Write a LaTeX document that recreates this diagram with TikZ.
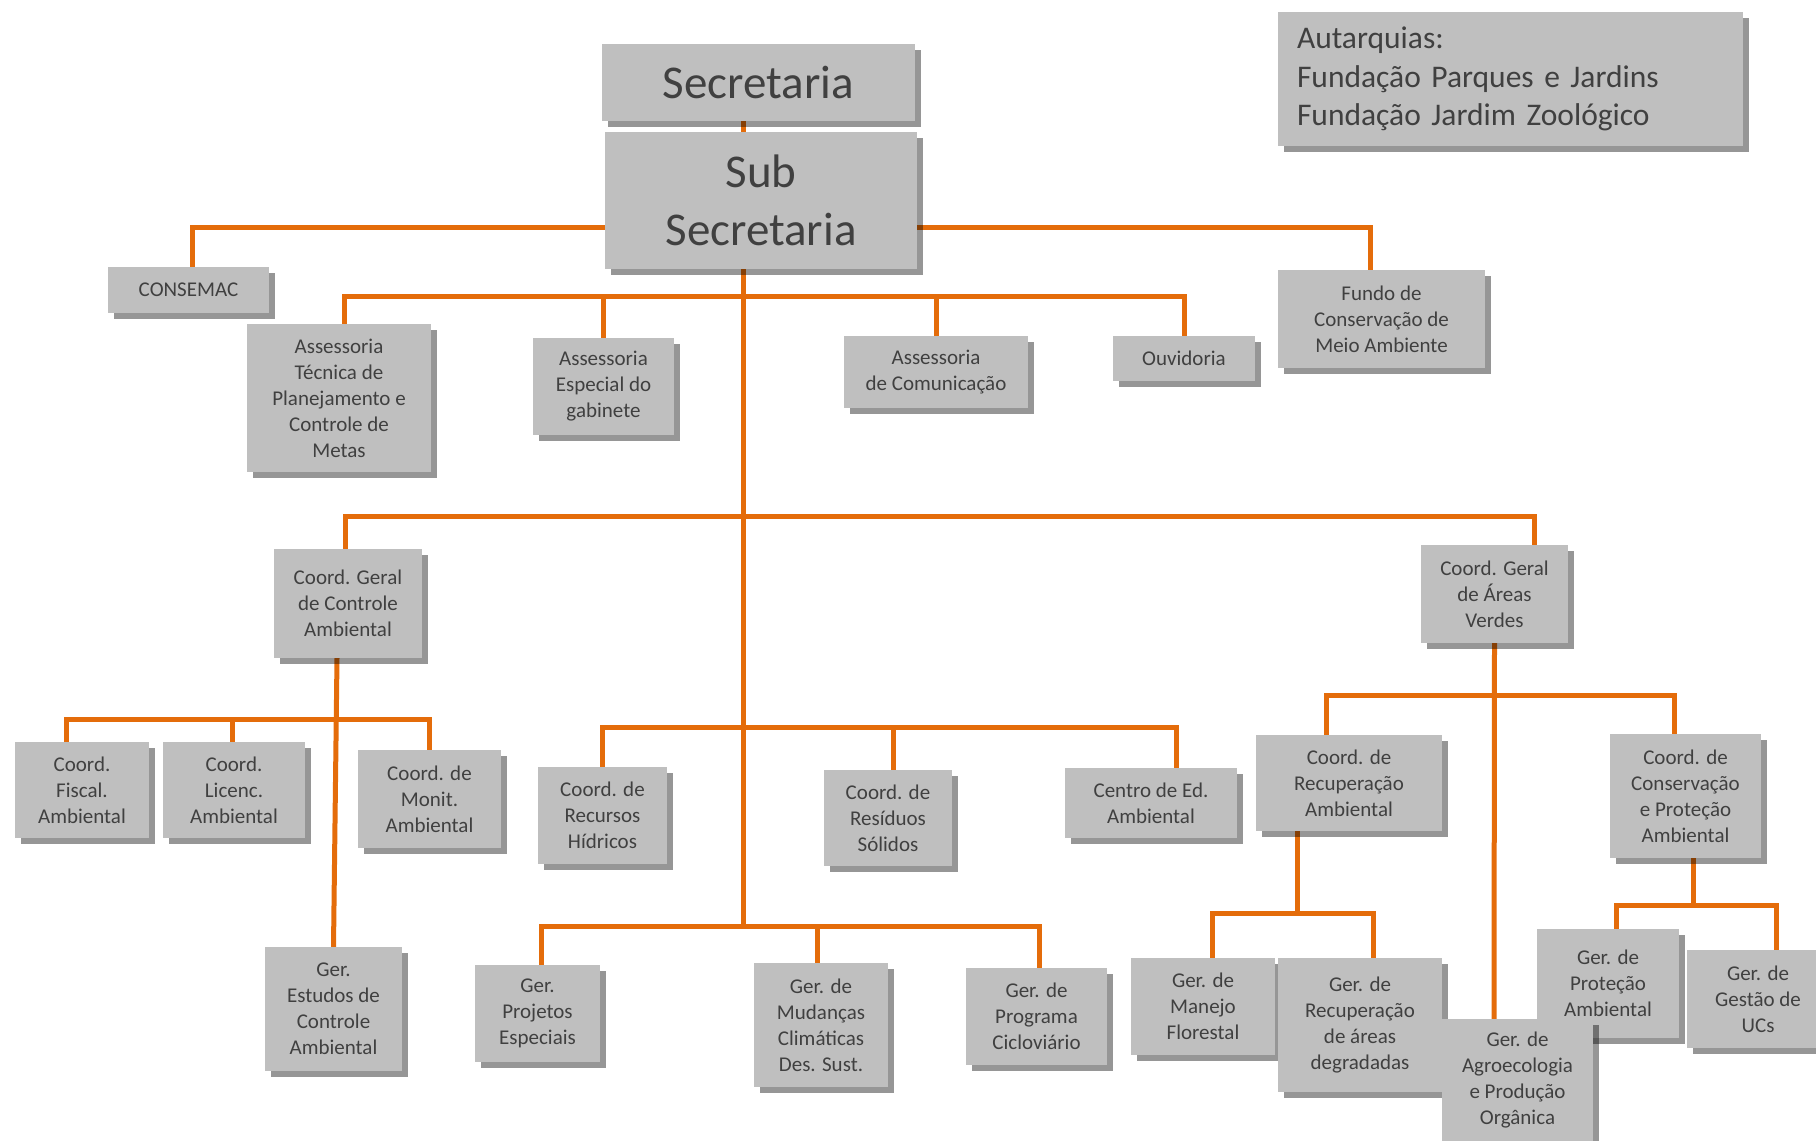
\documentclass[tikz,border=0pt]{standalone}
\usepackage{fontspec}
\setmainfont{Carlito}
\usetikzlibrary{positioning,shadows,backgrounds}
\definecolor{orgorange}{RGB}{228,108,10}
\definecolor{orggray}{RGB}{191,191,191}
\definecolor{orgtext}{RGB}{64,64,64}
\tikzset{
  box/.style={fill=orggray, text=orgtext, align=center, inner sep=0pt,
    font=\fontsize{21}{26}\selectfont,
    drop shadow={shadow xshift=6pt, shadow yshift=-6pt, fill=black, opacity=0.41}},
  bigbox/.style={box, font=\fontsize{47}{58}\selectfont},
  dims/.style 2 args={minimum width=#1pt, minimum height=#2pt},
  link/.style={draw=orgorange, line width=5pt}
}

\begin{document}
\begin{tikzpicture}[x=1pt, y=-1pt]
  \useasboundingbox (0,0) rectangle (1816,1141);
  % top
  \node[bigbox, dims={313}{77}] (sec) at (758.5,82.5) {Secretaria};
  \node[bigbox, dims={312}{137}] (sub) at (761,200.5) {Sub\\Secretaria};
  \node[box, align=left, text width=427pt, inner xsep=19pt, minimum height=134pt,
    font=\fontsize{31.5}{38.8}\selectfont] (autarq) at (1510.5,79)
    {Autarquias:\\Fundação Parques e Jardins\\Fundação Jardim Zoológico};
  \node[box, dims={161}{46}] (consemac) at (188.5,290) {CONSEMAC};
  \node[box, dims={207}{98}] (fundo) at (1381.5,319) {Fundo de\\Conservação de\\Meio Ambiente};
  % assessorias
  \node[box, dims={184}{148}] (asstec) at (339,398) {Assessoria\\Técnica de\\Planejamento e\\Controle de\\Metas};
  \node[box, dims={141}{97}] (assesp) at (603.5,386.5) {Assessoria\\Especial do\\gabinete};
  \node[box, dims={184}{72}] (asscom) at (936,372) {Assessoria\\de Comunicação};
  \node[box, dims={142}{45}] (ouv) at (1184,358.5) {Ouvidoria};
  % coordenacoes gerais
  \node[box, dims={148}{109}] (cgca) at (348,603.5) {Coord. Geral\\de Controle\\Ambiental};
  \node[box, dims={147}{98}] (cgav) at (1494.5,594) {Coord. Geral\\de Áreas\\Verdes};
  % coordenacoes
  \node[box, dims={134}{96}] (fiscal) at (82,790) {Coord.\\Fiscal.\\Ambiental};
  \node[box, dims={142}{96}] (licenc) at (234,790) {Coord.\\Licenc.\\Ambiental};
  \node[box, dims={143}{98}] (monit) at (429.5,799) {Coord. de\\Monit.\\Ambiental};
  \node[box, dims={129}{97}] (hidricos) at (602.5,815.5) {Coord. de\\Recursos\\Hídricos};
  \node[box, dims={128}{96}] (solidos) at (888,818) {Coord. de\\Resíduos\\Sólidos};
  \node[box, dims={172}{70}] (centroed) at (1151,803) {Centro de Ed.\\Ambiental};
  \node[box, dims={186}{96}] (coordrec) at (1349,783) {Coord. de\\Recuperação\\Ambiental};
  \node[box, dims={151}{124}] (coordcons) at (1685.5,796) {Coord. de\\Conservação\\e Proteção\\Ambiental};
  % gerencias
  \node[box, dims={137}{124}] (gerest) at (333.5,1009) {Ger.\\Estudos de\\Controle\\Ambiental};
  \node[box, dims={125}{97}] (gerproj) at (537.5,1013.5) {Ger.\\Projetos\\Especiais};
  \node[box, dims={134}{124}] (germud) at (821,1025) {Ger. de\\Mudanças\\Climáticas\\Des. Sust.};
  \node[box, dims={141}{97}] (gerciclo) at (1036.5,1016.5) {Ger. de\\Programa\\Cicloviário};
  \node[box, dims={144}{97}] (germanejo) at (1203,1006.5) {Ger. de\\Manejo\\Florestal};
  \node[box, dims={164}{134}] (gerrecup) at (1360,1025) {Ger. de\\Recuperação\\de áreas\\degradadas};
  \node[box, dims={142}{109}] (gerprot) at (1608,983.5) {Ger. de\\Proteção\\Ambiental};
  \node[box, dims={151}{122}] (geragro) at (1517.5,1080) {Ger. de\\Agroecologia\\e Produção\\Orgânica};
  \node[box, dims={142}{98}] (gergestao) at (1758,999) {Ger. de\\Gestão de\\UCs};

  % bus levels
  \coordinate (bside) at (743,227);
  \coordinate (b2) at (743,296.5);
  \coordinate (b3) at (743,516.5);
  \coordinate (b4) at (743,727);
  \coordinate (b5) at (743,926);
  \coordinate (ba) at (337,719);
  \coordinate (bv) at (1494,695);
  \coordinate (br) at (1297,913);
  \coordinate (bc) at (1693,905.5);

  \begin{scope}[on background layer]
    \draw[link] (sec.south -| b5) -- (sub.north -| b5);
    \draw[link] (sub.south -| b5) -- (b5);
    \draw[link] ([xshift=3.5pt]consemac.north) |- (bside) -| ([xshift=-11.5pt]fundo.north);
    \draw[link] ([xshift=5pt]asstec.north) |- (b2) -| (ouv.north);
    \draw[link] (assesp.north) -- (assesp.north |- b2);
    \draw[link] (asscom.north) -- (asscom.north |- b2);
    \draw[link] ([xshift=-3pt]cgca.north) |- (b3) -| ([xshift=39.5pt]cgav.north);
    \draw[link] (hidricos.north) |- (b4) -| ([xshift=25.5pt]centroed.north);
    \draw[link] ([xshift=5pt]solidos.north) -- ([xshift=5pt]solidos.north |- b4);
    \draw[link] ([xshift=3.5pt]gerproj.north) |- (b5) -| ([xshift=2.5pt]gerciclo.north);
    \draw[link] ([xshift=-3.5pt]germud.north) -- ([xshift=-3.5pt]germud.north |- b5);
    % controle ambiental
    \draw[link] ([xshift=-11pt]cgca.south) -- (gerest.north);
    \draw[link] ([xshift=-16pt]fiscal.north) |- (ba) -| (monit.north);
    \draw[link] ([xshift=-2pt]licenc.north) -- ([xshift=-2pt]licenc.north |- ba);
    % areas verdes
    \draw[link] (cgav.south) -- ([xshift=-23.5pt]geragro.north);
    \draw[link] ([xshift=-23pt]coordrec.north) |- (bv) -| ([xshift=-11pt]coordcons.north);
    \draw[link] ([xshift=-52pt]coordrec.south) -- (br);
    \draw[link] ([xshift=9pt]germanejo.north) |- (br) -| ([xshift=13pt]gerrecup.north);
    \draw[link] ([xshift=7.5pt]coordcons.south) -- (bc);
    \draw[link] ([xshift=8.5pt]gerprot.north) |- (bc) -| ([xshift=18pt]gergestao.north);
  \end{scope}
\end{tikzpicture}
\end{document}
